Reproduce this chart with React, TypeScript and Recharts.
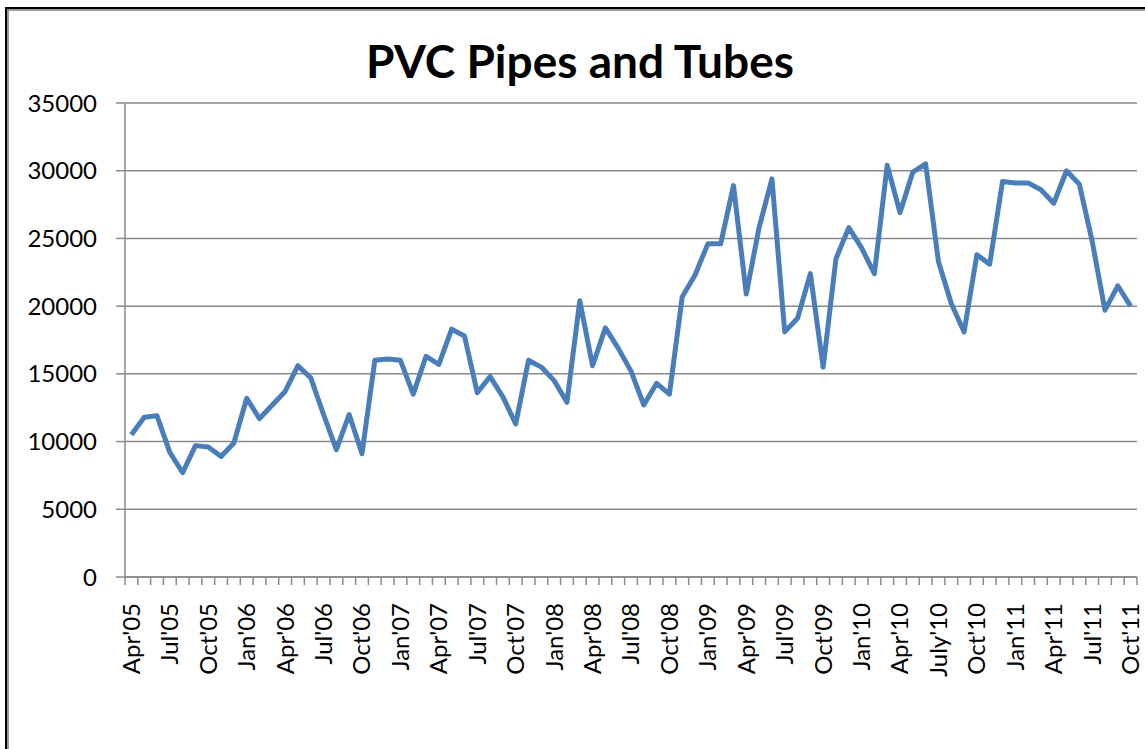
import { CartesianGrid, Line, LineChart, XAxis, YAxis } from "recharts";

// monthly values, Apr'05 .. Oct'11
const values = [
  10500, 11800, 11900, 9200, 7700, 9700, 9600, 8900, 9900,
  13200, 11700, 12700, 13700, 15600, 14700, 12000, 9400, 12000, 9100, 16000, 16100,
  16000, 13500, 16300, 15700, 18300, 17800, 13600, 14800, 13300, 11300, 16000, 15500,
  14500, 12900, 20400, 15600, 18400, 16900, 15200, 12700, 14300, 13500, 20700, 22300,
  24600, 24600, 28900, 20900, 25800, 29400, 18100, 19100, 22400, 15500, 23500, 25800,
  24300, 22400, 30400, 26900, 29900, 30500, 23300, 20200, 18100, 23800, 23100, 29200,
  29100, 29100, 28600, 27600, 30000, 29000, 24800, 19700, 21500, 20000,
];

// every third month carries a label
const tickLabels = [
  "Apr'05", "Jul'05", "Oct'05", "Jan'06", "Apr'06", "Jul'06", "Oct'06",
  "Jan'07", "Apr'07", "Jul'07", "Oct'07", "Jan'08", "Apr'08", "Jul'08",
  "Oct'08", "Jan'09", "Apr'09", "Jul'09", "Oct'09", "Jan'10", "Apr'10",
  "July'10", "Oct'10", "Jan'11", "Apr'11", "Jul'11", "Oct'11",
];

const yTicks = [0, 5000, 10000, 15000, 20000, 25000, 30000, 35000];

const data = values.map((v, i) => ({ i, v }));
// tick marks sit between months, like Excel
const boundaryTicks = [...values.map((_, i) => i - 0.5), values.length - 0.5];

const FONT = "Lato, 'Open Sans', sans-serif";
const GREY = "#8a8a8a";

const MonthTick = (props: any) => {
  const { x, y, payload, width } = props;
  const idx = payload.value + 0.5;
  if (idx % 3 !== 0 || idx >= values.length) return <g />;
  const half = (width || 1012) / values.length / 2;
  const tx = x + half;
  const ty = y + 16;
  return (
    <text
      x={tx}
      y={ty}
      transform={`rotate(-90, ${tx}, ${ty})`}
      textAnchor="end"
      dy="0.35em"
      fontSize={24}
      fontFamily={FONT}
      fill="#000"
    >
      {tickLabels[idx / 3]}
    </text>
  );
};

const App = () => {
  return (
    <div
      style={{
        position: "fixed",
        left: 0,
        top: 0,
        width: 1145,
        height: 749,
        background: "#fff",
        overflow: "hidden",
      }}
    >
      <div
        style={{
          position: "absolute",
          left: 5,
          top: 7,
          right: -10,
          bottom: -10,
          borderTop: "2.5px solid #000",
          borderLeft: "2.5px solid #000",
        }}
      >
        <div
          style={{
            position: "absolute",
            inset: 0,
            borderTop: "2px solid #9a9a9a",
            borderLeft: "2px solid #9a9a9a",
          }}
        />
      </div>
      <div
        style={{
          position: "absolute",
          left: 0,
          width: 1160,
          top: 33,
          textAlign: "center",
          fontFamily: FONT,
          fontWeight: 700,
          fontSize: 46,
          lineHeight: "56px",
          color: "#000",
        }}
      >
        PVC Pipes and Tubes
      </div>
      <LineChart
        width={1145}
        height={749}
        data={data}
        margin={{ top: 103, right: 8, left: 0, bottom: 52 }}
        style={{ position: "absolute", left: 0, top: 0 }}
      >
        <CartesianGrid vertical={false} stroke={GREY} strokeWidth={1.5} />
        <XAxis
          dataKey="i"
          type="number"
          domain={[-0.5, values.length - 0.5]}
          ticks={boundaryTicks}
          interval={0}
          height={120}
          tickSize={8}
          stroke={GREY}
          strokeWidth={1.5}
          tick={<MonthTick />}
          allowDataOverflow
        />
        <YAxis
          domain={[0, 35000]}
          ticks={yTicks}
          interval={0}
          width={125}
          tickSize={9}
          tickMargin={19}
          stroke={GREY}
          strokeWidth={1.5}
          tick={{ fill: "#000", fontSize: 24, fontFamily: FONT }}
        />
        <Line
          dataKey="v"
          stroke="#4a7ebb"
          strokeWidth={5}
          strokeLinejoin="round"
          dot={false}
          isAnimationActive={false}
        />
      </LineChart>
    </div>
  );
};

export default App;
